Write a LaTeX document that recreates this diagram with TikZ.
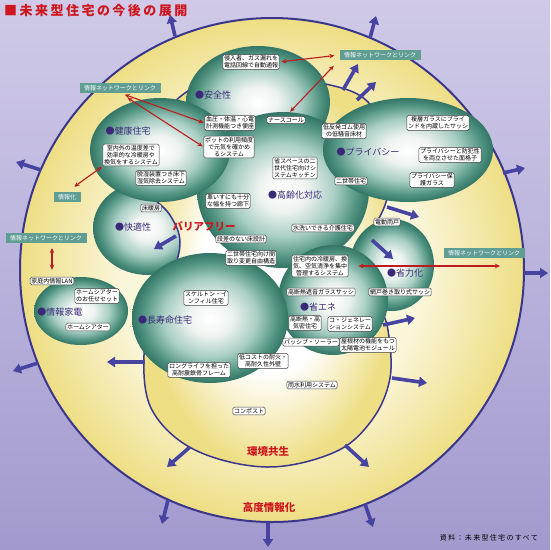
\documentclass[tikz,border=0pt]{standalone}
\usepackage{fontspec}
\setmainfont{Noto Sans CJK JP}
\newfontfamily\spacedfont[LetterSpace=19]{Noto Sans CJK JP}
\usetikzlibrary{shapes.geometric,arrows.meta}

\definecolor{bgtop}{RGB}{208,202,232}
\definecolor{bgbot}{RGB}{162,154,206}
\definecolor{ringyel}{RGB}{238,222,132}
\definecolor{ringpale}{RGB}{250,246,218}
\definecolor{bubdark}{RGB}{52,118,102}
\definecolor{bubedge}{RGB}{82,148,130}
\definecolor{bubmid}{RGB}{168,206,196}
\definecolor{bubwhite}{RGB}{238,243,240}
\definecolor{linecol}{RGB}{58,54,140}
\definecolor{arrcol}{RGB}{70,68,160}
\definecolor{redarr}{RGB}{188,28,32}
\definecolor{redtxt}{RGB}{206,22,30}
\definecolor{labcol}{RGB}{58,40,120}
\definecolor{tealbg}{RGB}{96,158,148}

\pgfdeclareradialshading{bubbleshade}{\pgfpoint{0bp}{0bp}}{color(0bp)=(white); color(7bp)=(bubwhite); color(15bp)=(bubmid); color(21.5bp)=(bubedge); color(25bp)=(bubdark); color(50bp)=(bubdark)}
\pgfdeclareradialshading{diskshade}{\pgfpoint{0bp}{0bp}}{color(0bp)=(ringpale); color(15bp)=(ringpale); color(25bp)=(ringyel); color(50bp)=(ringyel)}
\pgfdeclareradialshading{blobshade}{\pgfpoint{0bp}{0bp}}{color(0bp)=(white); color(13bp)=(white); color(25bp)=(ringyel); color(50bp)=(ringyel)}

\begin{document}
\begin{tikzpicture}[x=1pt, y=-1pt,
    bubble/.style = {ellipse, shade, shading=bubbleshade, inner sep=0pt},
    infobox/.style = {draw=black!75, fill=white, rounded corners=1.5pt,
      line width=0.5pt, align=center, inner sep=1.2pt,
      font=\fontsize{6}{7}\selectfont},
    tag/.style = {text=labcol, inner sep=0pt, font=\fontsize{9}{10}\selectfont},
    netlab/.style = {fill=tealbg, text=white, inner xsep=4.5pt, inner ysep=2pt,
      font=\fontsize{6}{7}\selectfont},
    zone/.style = {text=redtxt, font=\bfseries\fontsize{10.5}{12}\selectfont},
    outarrow/.style = {arrcol, line width=3.6pt, -{Triangle[width=10pt,length=8pt]}},
    link/.style = {redarr, line width=1.1pt,
      {Stealth[length=5pt,width=4.5pt]}-{Stealth[length=5pt,width=4.5pt]}}]
  \useasboundingbox (0,0) rectangle (550,550);
  \fill[top color=bgtop, bottom color=bgbot] (0,0) rectangle (550,550);
  \shadedraw[shading=diskshade, draw=linecol, line width=2pt] (272,270) circle[radius=252];

  \node[bubble, minimum width=110pt, minimum height=94pt] (comfortB) at (148,228) {};
  \shadedraw[shading=blobshade, draw=linecol, line width=1.5pt]
    plot[smooth cycle, tension=0.6] coordinates {(267,467) (335,452) (372,420)
    (390,378) (388,330) (378,300) (370,265) (368,240) (385,205) (394,160)
    (368,102) (318,82) (258,72) (200,84) (160,120) (143,180) (170,215)
    (180,242) (172,275) (155,310) (144,355) (152,410) (195,450)};

  \node[bubble, minimum width=144pt, minimum height=112pt] (safetyB) at (258,102) {};
  \node[bubble, minimum width=172pt, minimum height=156pt] (agingB) at (283,190) {};
  \node[bubble, minimum width=170pt, minimum height=104pt] (privacyB) at (408,150) {};
  \node[bubble, minimum width=140pt, minimum height=104pt] (healthB) at (160,150) {};
  \node[bubble, minimum width=84pt, minimum height=92pt] (laborB) at (392,265) {};
  \node[bubble, minimum width=110pt, minimum height=110pt] (energyB) at (333,300) {};
  \node[bubble, minimum width=156pt, minimum height=130pt] (longB) at (210,318) {};
  \node[bubble, minimum width=94pt, minimum height=68pt] (homeB) at (81,311) {};

  \foreach \s/\e in {{175,36}/{170,15}, {370,38}/{376,16}, {503,173}/{525,168},
      {524,273}/{548,273}, {41,170}/{16,162}, {38,363}/{13,371}, {168,500}/{162,524},
      {268,522}/{268,547}, {365,504}/{373,527}, {343,90}/{358,64}, {357,100}/{376,82},
      {387,207}/{419,217}, {372,240}/{393,259}, {383,325}/{415,318},
      {392,378}/{427,383}, {345,445}/{369,467}, {190,447}/{167,467},
      {145,362}/{107,362}, {176,236}/{154,249}}
    \draw[outarrow] (\s) -- (\e);

  \node[tag] (safetyT) at (213,95) {●安全性};
  \node[tag] (healthT) at (128,131) {●健康住宅};
  \node[tag] (comfortT) at (133,227) {●快適性};
  \node[tag] (agingT) at (295,195) {●高齢化対応};
  \node[tag] (privacyT) at (368,152) {●プライバシー};
  \node[tag] (laborT) at (405,273) {●省力化};
  \node[tag] (energyT) at (318,307) {●省エネ};
  \node[tag] (homeT) at (60,312) {●情報家電};
  \node[tag] (longT) at (165,320) {●長寿命住宅};

  \node[infobox] (intruder) at (251,62) {侵入者、ガス漏れを\\電話回線で自動通報};
  \node[infobox] (toilet) at (230,123) {血圧・体温・心電\\計測機能つき便座};
  \node[infobox] (pot) at (229,147) {ポットの利用頻度\\で元気を確かめ\\るシステム};
  \node[infobox] (humid) at (131,155) {室内外の温度差で\\効率的な冷暖房や\\換気をするシステム};
  \node[infobox] (underfloor) at (161,178) {脱湿装置つき床下\\湿気除去システム};
  \node[infobox] (floorheat) at (151,208) {床暖房};
  \node[infobox] (nurse) at (286,120) {ナースコール};
  \node[infobox] (kitchen) at (295,168) {省スペースの二\\世代住宅向けシ\\ステムキッチン};
  \node[infobox] (twogen) at (351,181) {二世帯住宅};
  \node[infobox] (corridor) at (228,201) {車いすにも十分\\な幅を持つ廊下};
  \node[infobox] (washcare) at (323,228) {水洗いできる介護住宅};
  \node[infobox] (nostep) at (241,239) {段差のない床設計};
  \node[infobox] (layout) at (251,258) {二世帯住宅向け間\\取り変更自由構造};
  \node[infobox] (rubber) at (344,131) {低反発ゴム使用\\の低騒音床材};
  \node[infobox] (blind) at (438,123) {複層ガラスにブライ\\ンドを内蔵したサッシ};
  \node[infobox] (lattice) at (450,155) {プライバシーと防犯性\\を両立させた面格子};
  \node[infobox] (privglass) at (432,180) {プライバシー保\\護ガラス};
  \node[infobox] (shutter) at (387,222) {電動雨戸};
  \node[infobox] (screen) at (400,292) {網戸巻き取り式サッシ};
  \node[infobox] (hvac) at (320,266) {住宅内の冷暖房、換\\気、空気清浄を集中\\管理するシステム};
  \node[infobox] (sash) at (321,292) {高断熱遮音ガラスサッシ};
  \node[infobox] (insul) at (305,323) {高断熱・高\\気密住宅};
  \node[infobox] (cogen) at (350,324) {コ・ジェネレー\\ションシステム};
  \node[infobox] (passive) at (311,342) {パッシブ・ソーラー};
  \node[infobox] (solar) at (368,345) {屋根材の機能をもつ\\太陽電池モジュール};
  \node[infobox] (lan) at (52,281) {家庭内情報LAN};
  \node[infobox] (theaterset) at (97,296) {ホームシアター\\のお任せセット};
  \node[infobox] (theater) at (88,327) {ホームシアター};
  \node[infobox] (skeleton) at (206,298) {スケルトン・イ\\ンフィル住宅};
  \node[infobox] (frame) at (199,370) {ロングライフを担った\\高耐震鉄骨フレーム};
  \node[infobox] (wall) at (263,361) {低コストの耐火・\\高耐久性外壁};
  \node[infobox] (rain) at (312,385) {雨水利用システム};
  \node[infobox] (compost) at (249,411) {コンポスト};

  \node[netlab] (netTL) at (120,88) {情報ネットワークとリンク};
  \node[netlab] (netTR) at (380,55) {情報ネットワークとリンク};
  \node[netlab] (netL) at (46,238) {情報ネットワークとリンク};
  \node[netlab] (netR) at (484,253) {情報ネットワークとリンク};
  \node[netlab] (infoL) at (67,197) {情報化};

  \node[zone] (barrierT) at (204,226) {バリアフリー};
  \node[zone] (envT) at (268,452) {環境共生};
  \node[zone] (infoT) at (269,508) {高度情報化};
  \node[anchor=west, text=redtxt, inner sep=0pt,
    font=\spacedfont\bfseries\fontsize{13}{15}\selectfont] (title) at (4,11) {■未来型住宅の今後の展開};
  \node[anchor=east, inner sep=0pt,
    font=\spacedfont\fontsize{7}{8}\selectfont] (source) at (538,538) {資料：未来型住宅のすべて};

  \draw[link, shorten <=5pt, shorten >=1pt] (netTL.south) -- (toilet.west);
  \draw[link, shorten <=9pt, shorten >=1pt] (netTL.south) -- (pot.west);
  \draw[link, shorten <=2pt, shorten >=5pt] (intruder.east) -- (netTR.west);
  \draw[link, shorten <=6pt, shorten >=8pt] (nurse.north) -- (netTR.south west);
  \draw[link, shorten <=9pt, shorten >=1pt] (infoL.north) -- (humid.south west);
  \draw[link, shorten <=5pt, shorten >=7pt] (lan.north |- netL.south) -- (lan.north);
  \draw[link, shorten <=10pt] (hvac.east) -- ([xshift=16pt]hvac.east -| netR);
\end{tikzpicture}
\end{document}
